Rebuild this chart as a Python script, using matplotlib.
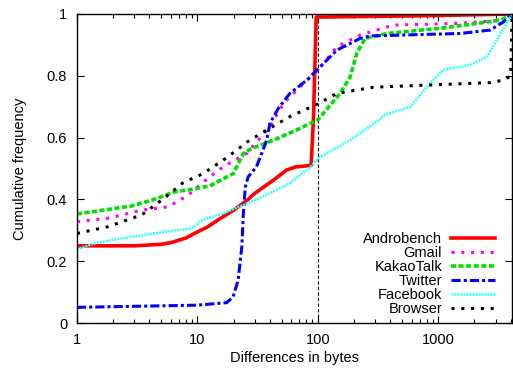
import numpy as np
import matplotlib
matplotlib.use("Agg")
import matplotlib.pyplot as plt
from matplotlib.ticker import FixedLocator, FixedFormatter, LogLocator, NullFormatter

plt.rcParams['font.family'] = ['Liberation Sans', 'DejaVu Sans']

# values
andro_x = [1, 3, 5, 6, 8, 10, 12, 15, 20, 26, 30, 43, 55, 65, 88, 92, 97, 100, 1000, 4096]
andro_y = [0.25, 0.25, 0.255, 0.26, 0.275, 0.295, 0.31, 0.335, 0.365, 0.398, 0.42, 0.463, 0.495,
           0.505, 0.51, 0.66, 0.99, 0.99, 0.995, 1.0]

gmail_x = [1, 1.8, 3.5, 5.7, 8.4, 10.9, 16.4, 25.7, 40, 52, 71.5, 98.5, 144, 225, 423, 1530, 3500, 4096]
gmail_y = [0.328, 0.339, 0.366, 0.376, 0.414, 0.453, 0.506, 0.549, 0.635, 0.711, 0.765, 0.815,
           0.894, 0.932, 0.964, 0.97, 0.98, 1.0]

kakao_x = [1, 2.85, 4.2, 6.5, 8.7, 12.7, 19.9, 24.1, 28.3, 43, 67, 92, 100, 153, 186, 211, 247,
           376, 1107, 3300, 4096]
kakao_y = [0.353, 0.379, 0.398, 0.425, 0.432, 0.444, 0.484, 0.549, 0.565, 0.592, 0.625, 0.651,
           0.657, 0.743, 0.797, 0.873, 0.921, 0.937, 0.955, 0.98, 1.0]

twitter_x = [1, 9.9, 17.5, 19.8, 21.8, 23.4, 24.1, 25, 26.4, 31, 37.7, 40, 47, 58.6, 81, 98.5,
             144, 225, 273, 1530, 2700, 3500, 4096]
twitter_y = [0.051, 0.058, 0.066, 0.085, 0.139, 0.247, 0.355, 0.44, 0.473, 0.506, 0.592, 0.646,
             0.695, 0.743, 0.786, 0.819, 0.883, 0.921, 0.929, 0.937, 0.948, 0.975, 1.0]

facebook_x = [1, 1.32, 2, 6.5, 9, 11.1, 16.4, 24.1, 40, 58.6, 89, 101, 186, 257, 330, 354, 585,
              810, 1100, 1840, 2540, 3300, 4096]
facebook_y = [0.238, 0.255, 0.27, 0.30, 0.306, 0.335, 0.355, 0.382, 0.42, 0.452, 0.509, 0.533,
              0.592, 0.63, 0.66, 0.673, 0.70, 0.765, 0.819, 0.835, 0.862, 0.937, 1.0]

browser_x = [1, 1.81, 3.45, 5.06, 7.6, 11.2, 17.5, 25.7, 37.7, 58.6, 98.5, 144, 290, 810, 2700,
             3500, 4000, 4096]
browser_y = [0.29, 0.312, 0.35, 0.398, 0.454, 0.484, 0.535, 0.585, 0.625, 0.668, 0.708, 0.743,
             0.763, 0.77, 0.778, 0.786, 0.80, 1.0]

threshold = 100
xticks = [1, 10, 100, 1000]
xlabels = ["1", "10", "100", "1000"]
yticks = [0, 0.2, 0.4, 0.6, 0.8, 1]
ylabels = ["0", "0.2", "0.4", "0.6", "0.8", "1"]

fig = plt.figure(figsize=(5.13, 3.68), dpi=100)
ax = fig.add_axes([0.150, 0.122, 0.848, 0.840])

ax.axvline(threshold, color='black', lw=0.8, ls=(0, (3, 2)))
ax.plot(andro_x, andro_y, color='#ff0000', lw=2.6, ls='-', label='Androbench')
ax.plot(gmail_x, gmail_y, color='#ff00ff', lw=2.2, ls=(0, (1, 2.2)), label='Gmail')
ax.plot(kakao_x, kakao_y, color='#00e000', lw=2.6, ls=(0, (1.4, 0.7)), label='KakaoTalk')
ax.plot(twitter_x, twitter_y, color='#0000ff', lw=2.2, ls=(0, (3, 1, 1, 1)), label='Twitter')
ax.plot(facebook_x, facebook_y, color='#33ffff', lw=1.8, ls=(0, (0.8, 0.4)), label='Facebook')
ax.plot(browser_x, browser_y, color='black', lw=2.2, ls=(0, (1, 2.2)), label='Browser')

ax.set_xscale('log')
ax.set_xlim(1, 4096)
ax.set_ylim(0, 1)
ax.xaxis.set_major_locator(FixedLocator(xticks))
ax.xaxis.set_major_formatter(FixedFormatter(xlabels))
ax.xaxis.set_minor_locator(LogLocator(base=10, subs=np.arange(2, 10)))
ax.xaxis.set_minor_formatter(NullFormatter())
ax.yaxis.set_major_locator(FixedLocator(yticks))
ax.yaxis.set_major_formatter(FixedFormatter(ylabels))
ax.tick_params(which='both', direction='in', top=True, right=True, labelsize=10.5, pad=7)
ax.tick_params(which='major', length=5, width=0.8)
ax.tick_params(which='minor', length=3, width=0.8)
for s in ax.spines.values():
    s.set_linewidth(1.0)

ax.set_xlabel('Differences in bytes', fontsize=10.5, labelpad=3)
ax.set_ylabel('Cumulative frequency', fontsize=10.5, labelpad=14)

ax.legend(loc='lower right', bbox_to_anchor=(0.977, 0.0), frameon=False, markerfirst=False,
          fontsize=10.5, handlelength=3.0, labelspacing=0.0, borderaxespad=0.3,
          handletextpad=0.6, borderpad=0.2)

fig.savefig('out.png', dpi=100)
